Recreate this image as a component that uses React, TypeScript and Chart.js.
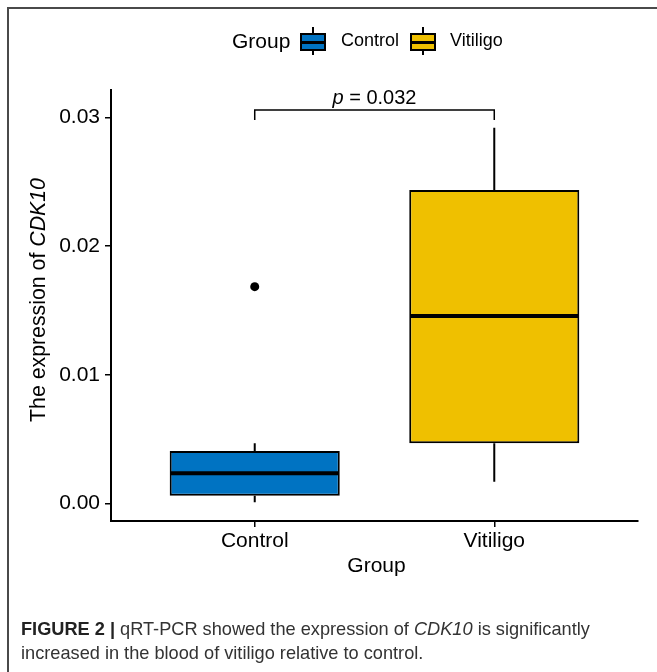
import React, { useEffect, useRef } from "react";
import { Chart, registerables } from "chart.js";

Chart.register(...registerables);

// ---------- data ----------
const categories = ["Control", "Vitiligo"];
const categoryPositions = [1, 2];
const whiskerLow = [0.00008, 0.00168];
const q1Values = [0.00059, 0.00467];
const medianValues = [0.00233, 0.01457];
const q3Values = [0.00407, 0.02437];
const whiskerHigh = [0.00467, 0.02922];
const outlierGroups = [1];
const outlierValues = [0.01685];
const yTickValues = [0, 0.01, 0.02, 0.03];
const groupColors = ["#0073C2", "#EFC000"];
const pValueText = "0.032";
const bracketTop = 0.0306;
const bracketFoot = 0.02982;

const FONT = '"Liberation Sans", Arial, Helvetica, sans-serif';

const extrasPlugin = {
  id: "boxExtras",
  afterDatasetsDraw(chart: any) {
    const ctx = chart.ctx;
    const ys = chart.scales.y;
    const xs = chart.scales.x;
    const meta = chart.getDatasetMeta(0);
    ctx.save();
    ctx.strokeStyle = "#000";
    ctx.lineCap = "butt";
    meta.data.forEach((bar: any, i: number) => {
      const p = bar.getProps(["x", "width"], true);
      const cx = p.x;
      const half = p.width / 2;
      ctx.lineWidth = 2;
      ctx.beginPath();
      ctx.moveTo(cx, ys.getPixelForValue(q3Values[i]));
      ctx.lineTo(cx, ys.getPixelForValue(whiskerHigh[i]));
      ctx.moveTo(cx, ys.getPixelForValue(q1Values[i]));
      ctx.lineTo(cx, ys.getPixelForValue(whiskerLow[i]));
      ctx.stroke();
      const ym = ys.getPixelForValue(medianValues[i]);
      ctx.lineWidth = 4;
      ctx.beginPath();
      ctx.moveTo(cx - half + 1, ym);
      ctx.lineTo(cx + half - 1, ym);
      ctx.stroke();
    });
    // significance bracket
    const x1 = xs.getPixelForValue(categoryPositions[0]);
    const x2 = xs.getPixelForValue(categoryPositions[1]);
    const yt = ys.getPixelForValue(bracketTop);
    const yf = ys.getPixelForValue(bracketFoot);
    ctx.lineWidth = 1.5;
    ctx.beginPath();
    ctx.moveTo(x1, yf);
    ctx.lineTo(x1, yt);
    ctx.lineTo(x2, yt);
    ctx.lineTo(x2, yf);
    ctx.stroke();
    // p label
    ctx.fillStyle = "#000";
    ctx.textBaseline = "alphabetic";
    const sizeP = 20;
    ctx.font = `italic ${sizeP}px ${FONT}`;
    const wp = ctx.measureText("p").width;
    ctx.font = `${sizeP}px ${FONT}`;
    const rest = " = " + pValueText;
    const wr = ctx.measureText(rest).width;
    const startX = (x1 + x2) / 2 - (wp + wr) / 2;
    ctx.font = `italic ${sizeP}px ${FONT}`;
    ctx.textAlign = "left";
    ctx.fillText("p", startX, yt - 6);
    ctx.font = `${sizeP}px ${FONT}`;
    ctx.fillText(rest, startX + wp, yt - 6);
    ctx.restore();
  },
  afterDraw(chart: any) {
    const ctx = chart.ctx;
    const area = chart.chartArea;
    ctx.save();
    ctx.fillStyle = "#000";
    // x title
    ctx.font = `21px ${FONT}`;
    ctx.textAlign = "center";
    ctx.textBaseline = "middle";
    ctx.fillText("Group", (area.left + area.right) / 2 + 2, 566);
    // y title
    ctx.translate(39, 300);
    ctx.rotate(-Math.PI / 2);
    const a = "The expression of ";
    const b = "CDK10";
    const sz = 21.3;
    ctx.font = `${sz}px ${FONT}`;
    const wa = ctx.measureText(a).width;
    ctx.font = `italic ${sz}px ${FONT}`;
    const wb = ctx.measureText(b).width;
    const sx = -(wa + wb) / 2;
    ctx.textAlign = "left";
    ctx.font = `${sz}px ${FONT}`;
    ctx.fillText(a, sx, 0);
    ctx.font = `italic ${sz}px ${FONT}`;
    ctx.fillText(b, sx + wa, 0);
    ctx.restore();
  },
};

function LegendKey({ left, color }: { left: number; color: string }) {
  return (
    <div style={{ position: "fixed", left, top: 27, width: 26, height: 28 }}>
      <div style={{ position: "absolute", left: 12, top: 0, width: 2, height: 28, background: "#000" }} />
      <div
        style={{
          position: "absolute",
          left: 0,
          top: 6,
          width: 26,
          height: 18,
          boxSizing: "border-box",
          border: "2px solid #000",
          background: color,
        }}
      />
      <div style={{ position: "absolute", left: 0, top: 13.5, width: 26, height: 3, background: "#000" }} />
    </div>
  );
}

export default function App() {
  const canvasRef = useRef<HTMLCanvasElement | null>(null);

  useEffect(() => {
    const canvas = canvasRef.current;
    if (!canvas) return;
    const boxData = categoryPositions.map((x, i) => ({ x, y: [q1Values[i], q3Values[i]] }));
    const outlierData = outlierGroups.map((g, i) => ({ x: categoryPositions[g - 1], y: outlierValues[i] }));
    const chart = new Chart(canvas, {
      type: "bar",
      data: {
        datasets: [
          {
            type: "bar",
            label: "box",
            data: boxData as any,
            backgroundColor: groupColors,
            borderColor: "#000",
            borderWidth: 2,
            borderSkipped: false,
            barPercentage: 0.71,
            categoryPercentage: 1,
          } as any,
          {
            type: "scatter",
            label: "outliers",
            data: outlierData,
            backgroundColor: "#000",
            borderColor: "#000",
            pointRadius: 4.5,
            borderWidth: 0,
          } as any,
        ],
      },
      options: {
        responsive: false,
        animation: false,
        devicePixelRatio: 1,
        layout: { padding: { top: 90, right: 19, bottom: 0, left: 0 } },
        plugins: { legend: { display: false }, tooltip: { enabled: false } },
        scales: {
          x: {
            type: "linear",
            offset: false,
            min: 0.4,
            max: 2.6,
            afterBuildTicks: (s: any) => {
              s.ticks = categoryPositions.map((v) => ({ value: v }));
            },
            afterFit: (s: any) => {
              s.height = 79;
            },
            ticks: {
              callback: (v: any) => categories[categoryPositions.indexOf(Number(v))] ?? "",
              color: "#000",
              font: { family: FONT, size: 21 },
              padding: 2,
              maxRotation: 0,
              autoSkip: false,
            },
            grid: {
              display: true,
              offset: false,
              drawOnChartArea: false,
              drawTicks: true,
              tickLength: 6,
              color: "#000",
              lineWidth: 1.5,
            },
            border: { display: true, color: "#000", width: 2 },
          },
          y: {
            type: "linear",
            min: -0.00138,
            max: 0.03215,
            afterBuildTicks: (s: any) => {
              s.ticks = yTickValues.map((v) => ({ value: v }));
            },
            afterFit: (s: any) => {
              s.width = 111;
            },
            ticks: {
              callback: (v: any) => Number(v).toFixed(2),
              color: "#000",
              font: { family: FONT, size: 21 },
              padding: 5,
            },
            grid: { display: true, drawOnChartArea: false, drawTicks: true, tickLength: 6, color: "#000", lineWidth: 1.5 },
            border: { display: true, color: "#000", width: 2 },
          },
        },
      } as any,
      plugins: [extrasPlugin],
    });
    return () => chart.destroy();
  }, []);

  const textBase: React.CSSProperties = { position: "fixed", fontFamily: FONT, color: "#000", whiteSpace: "nowrap" };

  return (
    <div>
      <div
        style={{
          position: "fixed",
          left: 7,
          top: 7,
          width: 720,
          height: 720,
          borderLeft: "2px solid #4a4a4a",
          borderTop: "2px solid #4a4a4a",
        }}
      />
      <canvas
        ref={canvasRef}
        width={657}
        height={600}
        style={{ position: "fixed", left: 0, top: 0, width: 657, height: 600, display: "block" }}
      />
      <div style={{ ...textBase, left: 232, top: 29.5, fontSize: 21, lineHeight: "21px" }}>Group</div>
      <LegendKey left={300} color={groupColors[0]} />
      <div style={{ ...textBase, left: 341, top: 31, fontSize: 18, lineHeight: "18px" }}>{categories[0]}</div>
      <LegendKey left={410} color={groupColors[1]} />
      <div style={{ ...textBase, left: 450, top: 31, fontSize: 18, lineHeight: "18px" }}>{categories[1]}</div>
      <div style={{ ...textBase, left: 21, top: 617, fontSize: 18.2, lineHeight: "24px", color: "#333" }}>
        <span style={{ fontWeight: "bold", color: "#222" }}>FIGURE 2 |</span> qRT-PCR showed the expression of{" "}
        <i>CDK10</i> is significantly
        <br />
        increased in the blood of vitiligo relative to control.
      </div>
    </div>
  );
}
